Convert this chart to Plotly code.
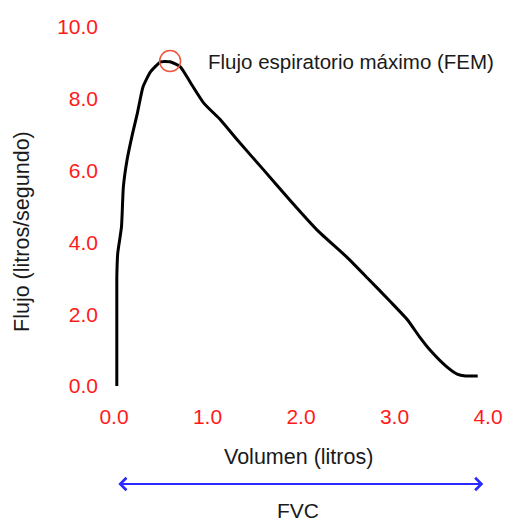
import plotly.graph_objects as go

# volumen (litros) / flujo (litros/segundo)
volumen = [0.03, 0.03, 0.04, 0.08, 0.10, 0.14, 0.20, 0.25, 0.31, 0.39, 0.50, 0.60,
           0.71, 0.82, 0.96, 1.14, 1.32, 1.60, 1.88, 2.17, 2.49, 2.71, 2.96, 3.14,
           3.27, 3.38, 3.56, 3.67, 3.76, 3.89]
flujo = [0.0, 3.01, 3.70, 4.43, 5.54, 6.30, 7.05, 7.60, 8.33, 8.75, 9.03, 9.03,
         8.89, 8.44, 7.88, 7.41, 6.85, 6.02, 5.18, 4.35, 3.59, 3.01, 2.34, 1.84,
         1.36, 1.00, 0.53, 0.33, 0.28, 0.28]

fem_vol = [0.60]
fem_flujo = [9.05]
fem_label = "Flujo espiratorio máximo (FEM)"

x_ticks = [0, 1, 2, 3, 4]
x_ticktext = ["0.0", "1.0", "2.0", "3.0", "4.0"]
y_ticks = [0, 2, 4, 6, 8, 10]
y_ticktext = ["0.0", "2.0", "4.0", "6.0", "8.0", "10.0"]

fvc_start, fvc_end = 0.03, 3.95

FONT = "Liberation Sans, Arial, sans-serif"
TXT = "#1a1a1a"

fig = go.Figure()
fig.add_trace(go.Scatter(x=volumen, y=flujo, mode="lines",
                         line=dict(color="black", width=3, shape="spline", smoothing=0.5),
                         showlegend=False, hoverinfo="skip"))
fig.add_trace(go.Scatter(x=fem_vol, y=fem_flujo, mode="markers",
                         marker=dict(symbol="circle-open", size=21,
                                     line=dict(color="#ff2020", width=1.5)),
                         showlegend=False, cliponaxis=False, hoverinfo="skip"))

fig.add_annotation(x=fem_vol[0] + 0.38, y=fem_flujo[0], text=fem_label,
                   showarrow=False, xanchor="left", yanchor="middle",
                   font=dict(family=FONT, size=20.5, color=TXT))

# axis titles
fig.add_annotation(x=1.97, y=-0.198, xref="x", yref="paper", text="Volumen (litros)",
                   showarrow=False, yanchor="middle", xanchor="center",
                   font=dict(family=FONT, size=21.5, color=TXT))
fig.add_annotation(x=0, y=0.429, xref="paper", yref="paper", xshift=-92,
                   text="Flujo (litros/segundo)", textangle=-90, showarrow=False,
                   xanchor="center", yanchor="middle",
                   font=dict(family=FONT, size=21.5, color=TXT))

# FVC arrow
fig.add_annotation(x=fvc_end, y=-0.273, xref="x", yref="paper",
                   ax=fvc_start, ay=0, axref="x", ayref="pixel", text="",
                   showarrow=True, arrowside="end+start", arrowhead=4,
                   startarrowhead=4, arrowsize=1.2, startarrowsize=1.2,
                   arrowwidth=2, arrowcolor="#2a2aff")
fig.add_annotation(x=1.97, y=-0.348, xref="x", yref="paper", text="FVC",
                   showarrow=False, yanchor="middle", xanchor="center",
                   font=dict(family=FONT, size=21, color=TXT))

fig.update_xaxes(range=[0, 4], tickvals=x_ticks, ticktext=x_ticktext,
                 showgrid=False, zeroline=False, showline=False, automargin=False,
                 tickfont=dict(family=FONT, size=21, color="#ff1a1a"),
                 ticks="", ticklabelstandoff=16)
fig.update_yaxes(range=[0, 10], tickvals=y_ticks, ticktext=y_ticktext,
                 showgrid=False, zeroline=False, showline=False, automargin=False,
                 tickfont=dict(family=FONT, size=21, color="#ff1a1a"),
                 ticks="", ticklabelstandoff=15)

fig.update_layout(width=505, height=522, plot_bgcolor="white", paper_bgcolor="white",
                  margin=dict(l=114, r=17, t=27, b=136), hovermode=False)

fig.write_html("out.html", config={"displayModeBar": False},
               post_script="document.body.style.margin='0';")
